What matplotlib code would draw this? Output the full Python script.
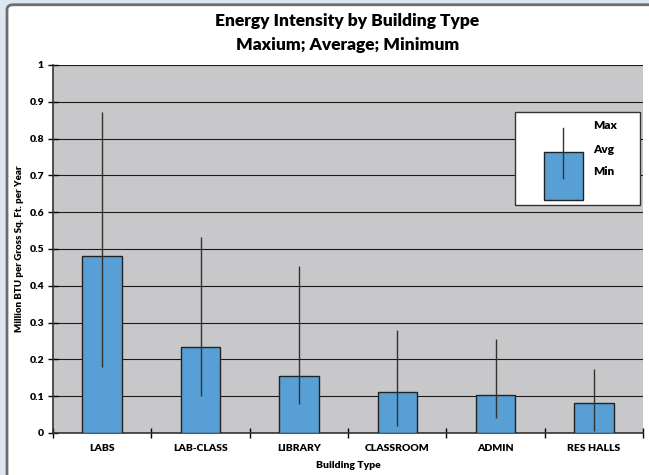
"""
Energy intensity by building type: bars = average, line = min..max
"""
import matplotlib.pyplot as plt
from matplotlib.patches import Rectangle, FancyBboxPatch

categories = ['LABS', 'LAB-CLASS', 'LIBRARY', 'CLASSROOM', 'ADMIN', 'RES HALLS']
avg_vals = [0.48, 0.234, 0.155, 0.111, 0.103, 0.082]
max_vals = [0.872, 0.533, 0.454, 0.28, 0.255, 0.174]
min_vals = [0.18, 0.10, 0.08, 0.02, 0.04, 0.005]
y_ticks = [0, 0.1, 0.2, 0.3, 0.4, 0.5, 0.6, 0.7, 0.8, 0.9, 1]
y_tick_labels = ['0', '0.1', '0.2', '0.3', '0.4', '0.5', '0.6', '0.7', '0.8', '0.9', '1']

plt.rcParams['font.family'] = ['Lato', 'DejaVu Sans']
W = 'heavy'

fig = plt.figure(figsize=(6.49, 4.75), dpi=100, facecolor='#dce7f2')
# white panel with grey frame
fig.patches.append(FancyBboxPatch((7 / 649, -0.05), 1.2, 1.04, boxstyle='round,pad=0,rounding_size=0.01',
                                  transform=fig.transFigure, facecolor='white', edgecolor='#6e6e70',
                                  linewidth=2, zorder=-10))

ax = fig.add_axes([53 / 649, 1 - 433 / 475, 590 / 649, 368 / 475])
ax.set_facecolor('#c8c8ca')

x = list(range(len(categories)))
ax.bar(x, avg_vals, width=0.4, color='#579fd5', edgecolor='#222222', linewidth=1, zorder=3)
ax.vlines(x, min_vals, max_vals, color='#333333', linewidth=1, zorder=4)

ax.set_xlim(-0.5, len(categories) - 0.5)
ax.set_ylim(0, 1)
ax.set_yticks(y_ticks)
ax.set_yticklabels(y_tick_labels, fontsize=7.5, fontweight=W)
ax.yaxis.grid(True, color='#1a1a1a', linewidth=0.8, zorder=1)
ax.set_axisbelow(True)

ax.set_xticks([i - 0.5 for i in range(len(categories) + 1)])
ax.set_xticklabels([])
ax.set_xticks(x, minor=True)
ax.set_xticklabels(categories, minor=True, fontsize=7.5, fontweight=W)
ax.tick_params(axis='x', which='major', direction='inout', length=7, width=1)
ax.tick_params(axis='x', which='minor', length=0, pad=8)
ax.tick_params(axis='y', direction='inout', length=7, width=1, pad=3)

for s in ['top', 'right']:
    ax.spines[s].set_visible(False)
for s in ['left', 'bottom']:
    ax.spines[s].set_color('#333333')
    ax.spines[s].set_linewidth(1.2)

ax.set_xlabel('Building Type', fontsize=7.5, fontweight=W, labelpad=6)
ax.set_ylabel('Million BTU per Gross Sq. Ft. per Year', fontsize=7, fontweight=W, labelpad=4)

fig.text(0.535, 0.955, 'Energy Intensity by Building Type', ha='center', va='center',
         fontsize=12.5, fontweight='heavy')
fig.text(0.535, 0.905, 'Maxium; Average; Minimum', ha='center', va='center',
         fontsize=12.5, fontweight='heavy')

# legend box drawn by hand
ax.add_patch(Rectangle((0.783, 0.62), 0.212, 0.252, transform=ax.transAxes,
                       facecolor='white', edgecolor='#333333', linewidth=1, zorder=5))
ax.add_patch(Rectangle((0.832, 0.633), 0.066, 0.131, transform=ax.transAxes,
                       facecolor='#579fd5', edgecolor='#222222', linewidth=1, zorder=6))
ax.plot([0.865, 0.865], [0.693, 0.829], transform=ax.transAxes, color='#333333',
        linewidth=1, zorder=7)
for lab, yy in [('Max', 0.835), ('Avg', 0.77), ('Min', 0.71)]:
    ax.text(0.915, yy, lab, transform=ax.transAxes, fontsize=8.5, fontweight=W,
            va='center', ha='left', zorder=7)

plt.savefig('out.png', dpi=100, facecolor=fig.get_facecolor())
